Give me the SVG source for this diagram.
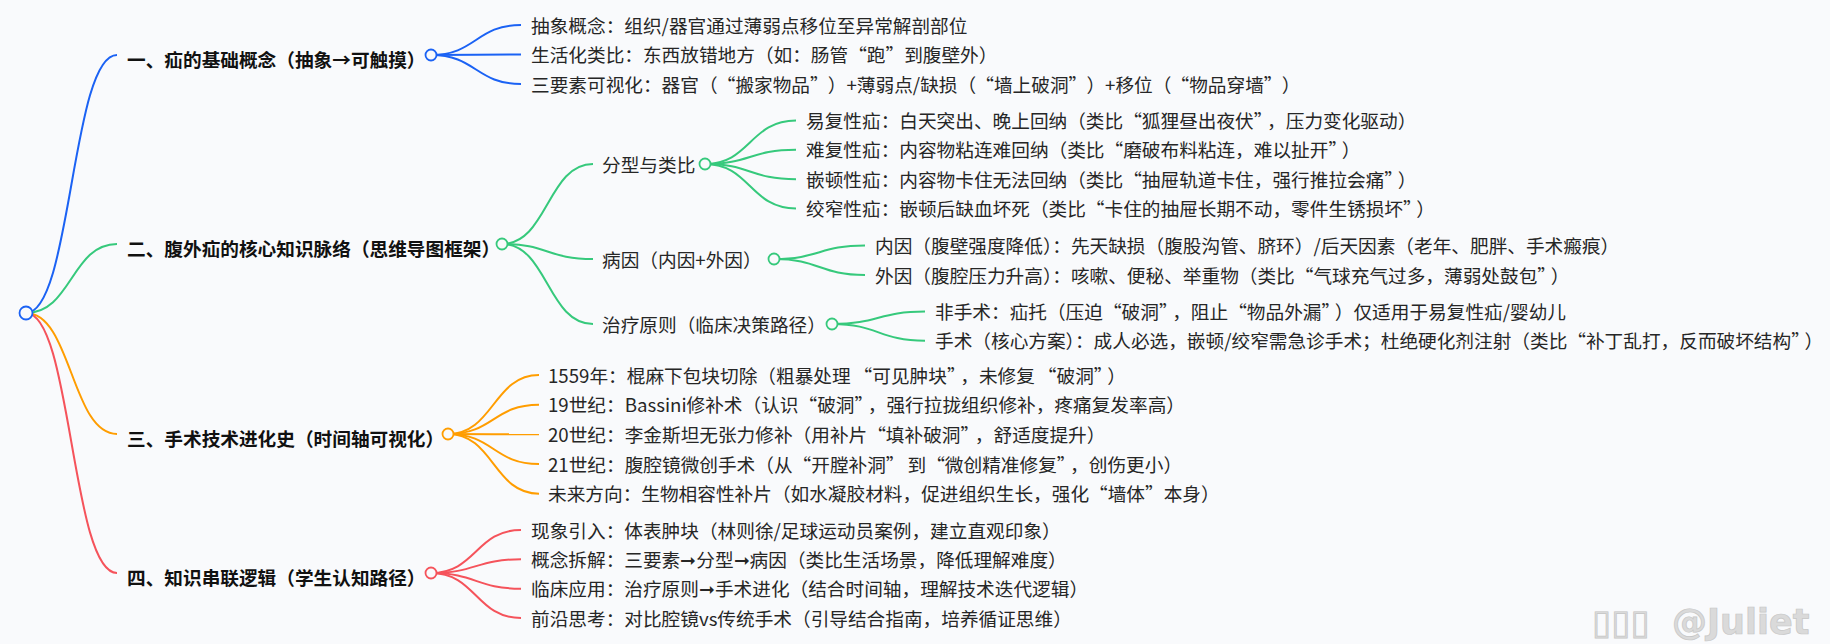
<svg xmlns="http://www.w3.org/2000/svg" width="1830" height="644" viewBox="0 0 1830 644">
<style>
.t{font-family:"Noto Sans CJK SC","Noto Sans",sans-serif;font-size:18.67px;fill:#262626}
.h{font-family:"Noto Sans CJK SC","Noto Sans",sans-serif;font-size:18.67px;font-weight:bold;fill:#111}
.l{fill:none;stroke-width:2}
.c{fill:#f9fafc;stroke-width:1.8}
.b{stroke:#1b62f4}.g{stroke:#36c97c}.o{stroke:#ff9d00}.r{stroke:#f5535b}
.wm{font-family:"DejaVu Sans",sans-serif;font-weight:bold;font-size:35px;fill:#dadada;stroke:#c6c6c6;stroke-width:0.7}
</style>
<rect width="1830" height="644" fill="#f9fafc"/>
<g id="connectors">
<path class="l b" d="M26 313C71.5 313 71.5 55 117 55"/>
<path class="l g" d="M26 313C71.5 313 71.5 244 117 244"/>
<path class="l o" d="M26 313C71.5 313 71.5 434 117 434"/>
<path class="l r" d="M26 313C71.5 313 71.5 573 117 573"/>
<path class="l b" d="M431 55C476 55 476 25 521 25"/>
<path class="l b" d="M431 55C476 55 476 54.5 521 54.5"/>
<path class="l b" d="M431 55C476 55 476 84 521 84"/>
<path class="l g" d="M502 244C547.5 244 547.5 164 593 164"/>
<path class="l g" d="M502 244C547.5 244 547.5 259 593 259"/>
<path class="l g" d="M502 244C547.5 244 547.5 324 593 324"/>
<path class="l g" d="M705 164C750 164 750 120.5 796 120.5"/>
<path class="l g" d="M705 164C750 164 750 149.8 796 149.8"/>
<path class="l g" d="M705 164C750 164 750 179.2 796 179.2"/>
<path class="l g" d="M705 164C750 164 750 208.5 796 208.5"/>
<path class="l g" d="M774 259C819.5 259 819.5 245.5 865 245.5"/>
<path class="l g" d="M774 259C819.5 259 819.5 275 865 275"/>
<path class="l g" d="M832 324C878.5 324 878.5 311.5 925 311.5"/>
<path class="l g" d="M832 324C878.5 324 878.5 340.7 925 340.7"/>
<path class="l o" d="M448 434C493.5 434 493.5 375 539 375"/>
<path class="l o" d="M448 434C493.5 434 493.5 404.7 539 404.7"/>
<path class="l o" d="M448 434C493.5 434 493.5 434.3 539 434.3"/>
<path class="l o" d="M448 434C493.5 434 493.5 464 539 464"/>
<path class="l o" d="M448 434C493.5 434 493.5 493.7 539 493.7"/>
<path class="l r" d="M431 573C476 573 476 530 521 530"/>
<path class="l r" d="M431 573C476 573 476 559.3 521 559.3"/>
<path class="l r" d="M431 573C476 573 476 588.7 521 588.7"/>
<path class="l r" d="M431 573C476 573 476 618 521 618"/>
</g>
<g id="root"><circle class="c b" cx="26" cy="313" r="6.5" stroke-width="2"/></g>
<g id="n1">
<text class="h" x="127" y="66.5">一、疝的基础概念（抽象→可触摸）</text>
<circle class="c b" cx="431" cy="55" r="5.5"/>
</g>
<g id="n1-1"><text class="t" x="531" y="32.5">抽象概念：组织/器官通过薄弱点移位至异常解剖部位</text></g>
<g id="n1-2"><text class="t" x="531" y="62">生活化类比：东西放错地方（如：肠管“跑”到腹壁外）</text></g>
<g id="n1-3"><text class="t" x="531" y="91.5">三要素可视化：器官（<tspan dx="8.5">“搬家物品”</tspan><tspan dx="8.5">）+薄弱点/缺损（</tspan><tspan dx="8.5">“墙上破洞”</tspan><tspan dx="8.5">）+移位（</tspan><tspan dx="8.5">“物品穿墙”</tspan><tspan dx="8.5">）</tspan></text></g>
<g id="n2">
<text class="h" x="127" y="255.5">二、腹外疝的核心知识脉络（思维导图框架）</text>
<circle class="c g" cx="502" cy="244" r="5.5"/>
</g>
<g id="n2-1">
<text class="t" x="602" y="172">分型与类比</text>
<circle class="c g" cx="705" cy="164" r="5.5"/>
</g>
<g id="n2-1-1"><text class="t" x="806" y="128">易复性疝：白天突出、晚上回纳（类比“狐狸昼出夜伏”<tspan dx="4">，压力变化驱动）</tspan></text></g>
<g id="n2-1-2"><text class="t" x="806" y="157.3">难复性疝：内容物粘连难回纳（类比“磨破布料粘连，难以扯开”<tspan dx="4">）</tspan></text></g>
<g id="n2-1-3"><text class="t" x="806" y="186.7">嵌顿性疝：内容物卡住无法回纳（类比“抽屉轨道卡住，强行推拉会痛”<tspan dx="4">）</tspan></text></g>
<g id="n2-1-4"><text class="t" x="806" y="216">绞窄性疝：嵌顿后缺血坏死（类比“卡住的抽屉长期不动，零件生锈损坏”<tspan dx="4">）</tspan></text></g>
<g id="n2-2">
<text class="t" x="602" y="266.5">病因（内因+外因）</text>
<circle class="c g" cx="774" cy="259" r="5.5"/>
</g>
<g id="n2-2-1"><text class="t" x="875" y="253">内因（腹壁强度降低）：先天缺损（腹股沟管、脐环）/后天因素（老年、肥胖、手术瘢痕）</text></g>
<g id="n2-2-2"><text class="t" x="875" y="282.5">外因（腹腔压力升高）：咳嗽、便秘、举重物（类比“气球充气过多，薄弱处鼓包”<tspan dx="4">）</tspan></text></g>
<g id="n2-3">
<text class="t" x="602" y="332">治疗原则（临床决策路径）</text>
<circle class="c g" cx="832" cy="324" r="5.5"/>
</g>
<g id="n2-3-1"><text class="t" x="935" y="319">非手术：疝托（压迫“破洞”<tspan dx="4">，阻止“物品外漏”</tspan><tspan dx="4">）仅适用于易复性疝/婴幼儿</tspan></text></g>
<g id="n2-3-2"><text class="t" x="935" y="348.2">手术（核心方案）：成人必选，嵌顿/绞窄需急诊手术；杜绝硬化剂注射（类比“补丁乱打，反而破坏结构”<tspan dx="4">）</tspan></text></g>
<g id="n3">
<text class="h" x="127" y="445.5">三、手术技术进化史（时间轴可视化）</text>
<circle class="c o" cx="448" cy="434" r="5.5"/>
</g>
<g id="n3-1"><text class="t" x="548" y="382.5">1559年：棍麻下包块切除（粗暴处理<tspan dx="3">“可见肿块”</tspan><tspan dx="4">，未修复</tspan><tspan dx="3">“破洞”</tspan><tspan dx="4">）</tspan></text></g>
<g id="n3-2"><text class="t" x="548" y="412.2">19世纪：Bassini修补术（认识“破洞”<tspan dx="4">，强行拉拢组织修补，疼痛复发率高）</tspan></text></g>
<g id="n3-3"><text class="t" x="548" y="441.8">20世纪：李金斯坦无张力修补（用补片“填补破洞”<tspan dx="5">，舒适度提升）</tspan></text></g>
<g id="n3-4"><text class="t" x="548" y="471.5">21世纪：腹腔镜微创手术（从“开膛补洞”<tspan dx="3">到“微创精准修复”</tspan><tspan dx="4">，创伤更小）</tspan></text></g>
<g id="n3-5"><text class="t" x="548" y="501.2">未来方向：生物相容性补片（如水凝胶材料，促进组织生长，强化“墙体”本身）</text></g>
<g id="n4">
<text class="h" x="127" y="584.5">四、知识串联逻辑（学生认知路径）</text>
<circle class="c r" cx="431" cy="573" r="5.5"/>
</g>
<g id="n4-1"><text class="t" x="531" y="537.5">现象引入：体表肿块（林则徐/足球运动员案例，建立直观印象）</text></g>
<g id="n4-2"><text class="t" x="531" y="566.8">概念拆解：三要素➞分型➞病因（类比生活场景，降低理解难度）</text></g>
<g id="n4-3"><text class="t" x="531" y="596.2">临床应用：治疗原则➞手术进化（结合时间轴，理解技术迭代逻辑）</text></g>
<g id="n4-4"><text class="t" x="531" y="625.5">前沿思考：对比腔镜vs传统手术（引导结合指南，培养循证思维）</text></g>
<g id="watermark"><text class="wm" y="634"><tspan x="1592">▯▯▯</tspan><tspan x="1672">@Juliet</tspan></text></g>
</svg>
